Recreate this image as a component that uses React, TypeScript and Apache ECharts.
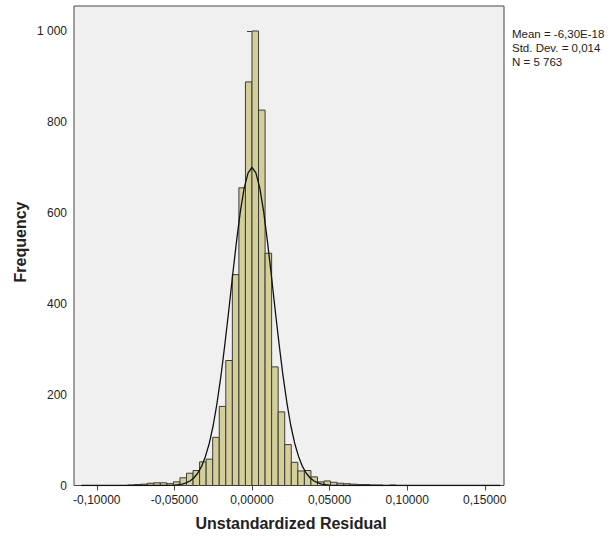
import React, { useEffect, useRef } from "react";
import * as echarts from "echarts";

// Histogram bins: index k covers [k*BIN_WIDTH, (k+1)*BIN_WIDTH]
const BIN_WIDTH = 0.00422;
const binIndex = [
  -19, -18, -17, -16, -15, -14, -13, -12, -11, -10, -9, -8, -7, -6, -5, -4, -3, -2, -1,
  0, 1, 2, 3, 4, 5, 6, 7, 8, 9, 10, 11, 12, 13, 14, 15, 16, 17, 18, 19, 20, 21,
];
const binCounts = [
  1, 2, 3, 5, 6, 6, 4, 8, 17, 27, 33, 52, 58, 106, 174, 275, 464, 655, 888,
  1000, 826, 511, 261, 162, 90, 51, 32, 33, 19, 8, 10, 7, 5, 4, 3, 2, 2, 1, 1, 0, 1,
];

// Normal curve
const curveX = [
  -0.11, -0.06, -0.055, -0.05, -0.0475, -0.045, -0.0425, -0.04, -0.0375, -0.035, -0.0325, -0.03,
  -0.0275, -0.025, -0.0225, -0.02, -0.0175, -0.015, -0.0125, -0.01, -0.0075, -0.005, -0.0025,
  0, 0.0025, 0.005, 0.0075, 0.01, 0.0125, 0.015, 0.0175, 0.02, 0.0225, 0.025, 0.0275, 0.03,
  0.0325, 0.035, 0.0375, 0.04, 0.0425, 0.045, 0.0475, 0.05, 0.055, 0.06, 0.16,
];
const curveY = [
  0, 0, 0.2, 0.9, 1.7, 3.2, 5.7, 9.9, 16.5, 27, 42, 64,
  93, 132, 182, 241, 310, 384, 462, 536, 603, 655, 688,
  700, 688, 655, 603, 536, 462, 384, 310, 241, 182, 132, 93, 64,
  42, 27, 16.5, 9.9, 5.7, 3.2, 1.7, 0.9, 0.2, 0, 0,
];

const xTicks = [-0.1, -0.05, 0, 0.05, 0.1, 0.15];
const yTicks = [0, 200, 400, 600, 800, 1000];

const statsLines = ["Mean = -6,30E-18", "Std. Dev. = 0,014", "N = 5 763"];

const FONT = "'Liberation Sans', Arial, sans-serif";

export default function App() {
  const ref = useRef<HTMLDivElement>(null);
  useEffect(() => {
    if (!ref.current) return;
    const chart = echarts.init(ref.current, null, { renderer: "svg" });
    const barData = binIndex.map((k, i) => [k * BIN_WIDTH, (k + 1) * BIN_WIDTH, binCounts[i]]);
    const lineData = curveX.map((x, i) => [x, curveY[i]]);
    chart.setOption({
      animation: false,
      backgroundColor: "#ffffff",
      textStyle: { fontFamily: FONT },
      grid: {
        left: 74,
        top: 6,
        width: 430,
        height: 479.5,
        show: true,
        backgroundColor: "#f0f0f0",
        borderColor: "#444",
        borderWidth: 1,
      },
      xAxis: {
        type: "value",
        min: -0.1147,
        max: 0.1624,
        splitLine: { show: false },
        axisLine: { show: false },
        axisTick: {
          show: true,
          length: 5,
          customValues: xTicks,
          lineStyle: { color: "#444", width: 1 },
        },
        axisLabel: {
          customValues: xTicks,
          margin: 8,
          fontSize: 12,
          color: "#222",
          fontFamily: FONT,
          formatter: (v: number) => v.toFixed(5).replace(".", ","),
        },
      },
      yAxis: {
        type: "value",
        min: 0,
        max: 1055,
        splitLine: { show: false },
        axisLine: { show: false },
        axisTick: {
          show: true,
          length: 5,
          customValues: yTicks,
          lineStyle: { color: "#444", width: 1 },
        },
        axisLabel: {
          customValues: yTicks,
          margin: 7,
          fontSize: 12,
          color: "#222",
          fontFamily: FONT,
          formatter: (v: number) => (v >= 1000 ? String(v).replace(/(\d)(?=(\d{3})+$)/g, "$1 ") : String(v)),
        },
      },
      series: [
        {
          type: "custom",
          data: barData,
          encode: { x: [0, 1], y: 2 },
          renderItem: (params: any, api: any) => {
            const p0 = api.coord([api.value(0), api.value(2)]);
            const p1 = api.coord([api.value(1), 0]);
            return {
              type: "rect",
              shape: { x: p0[0], y: p0[1], width: p1[0] - p0[0], height: p1[1] - p0[1] },
              style: { fill: "#d4ce98", stroke: "#3c3c3c", lineWidth: 1 },
            };
          },
          z: 2,
        },
        {
          type: "line",
          data: lineData,
          smooth: false,
          showSymbol: false,
          lineStyle: { color: "#111", width: 1.3 },
          z: 3,
        },
      ],
      graphic: statsLines
        .map((t, i) => ({
          type: "text",
          left: 512,
          top: 28 + i * 14,
          style: {
            text: t,
            fontSize: 11.5,
            fill: "#222",
            fontFamily: FONT,
          },
        }))
        .concat([
          {
            type: "text",
            x: 291,
            y: 523,
            style: {
              text: "Unstandardized Residual",
              fontSize: 16,
              fontWeight: "bold",
              fill: "#222",
              fontFamily: FONT,
              align: "center",
              verticalAlign: "middle",
            } as any,
          } as any,
          {
            type: "text",
            x: 20,
            y: 242,
            rotation: Math.PI / 2,
            style: {
              text: "Frequency",
              fontSize: 16,
              fontWeight: "bold",
              fill: "#222",
              fontFamily: FONT,
              align: "center",
              verticalAlign: "middle",
            } as any,
          } as any,
        ]),
    });
    return () => chart.dispose();
  }, []);
  return (
    <div
      ref={ref}
      style={{ position: "fixed", left: 0, top: 0, width: 611, height: 540 }}
    />
  );
}
